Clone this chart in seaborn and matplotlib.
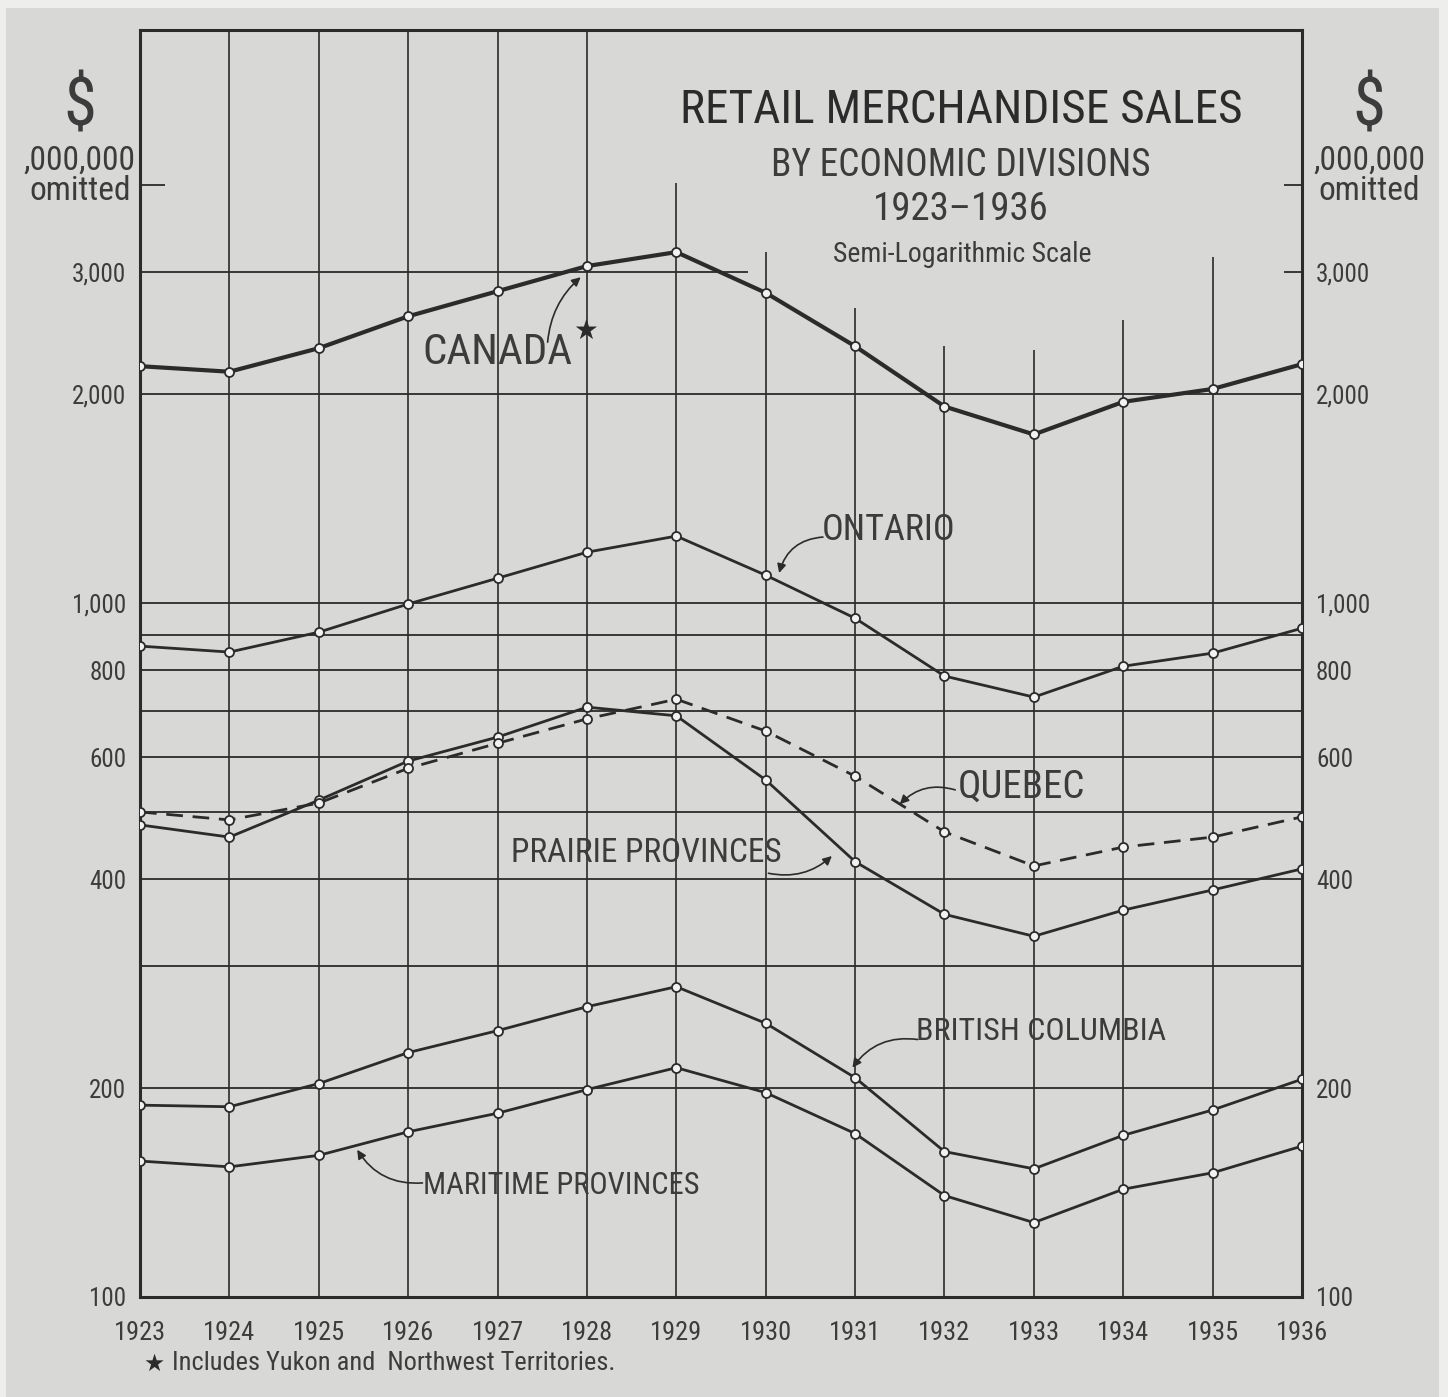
import numpy as np
import pandas as pd
import matplotlib
matplotlib.use("Agg")
import matplotlib.pyplot as plt
from matplotlib.patches import Rectangle
import seaborn as sns

# dados (milhões de dólares)
anos = list(range(1923, 1937))
canada = [2195, 2155, 2330, 2590, 2815, 3060, 3205, 2800, 2345, 1920, 1750, 1950, 2035, 2210]
ontario = [867, 850, 908, 997, 1086, 1184, 1249, 1097, 951, 785, 732, 811, 847, 920]
quebec = [500, 487, 515, 578, 628, 681, 727, 654, 563, 468, 418, 445, 460, 492]
prairie = [479, 460, 520, 592, 641, 708, 688, 556, 424, 356, 331, 361, 386, 414]
british_columbia = [189, 188, 203, 225, 242, 262, 280, 248, 207, 162, 153, 171, 186, 206]
maritime = [157, 154, 160, 173, 184, 199, 214, 197, 172, 140, 128, 143, 151, 165]

y_ticks = [100, 200, 400, 600, 800, 1000, 2000, 3000]
y_labels = ["100", "200", "400", "600", "800", "1,000", "2,000", "3,000"]
linhas_grade = [200, 300, 400, 500, 600, 700, 800, 900, 1000, 2000]
# altura das linhas verticais (cortadas pelo título)
topo_vertical = [6700, 6700, 6700, 6700, 6700, 4030, 3210, 2660, 2350, 2315, 2560, 3150]

sns.set_theme(style="white")
fonte = ["Roboto Condensed", "DejaVu Sans"]
plt.rcParams["font.family"] = fonte

papel = "#d8d8d6"
tinta = "#2b2b2b"
texto = "#3c3c3c"

fig = plt.figure(figsize=(14.48, 13.97), dpi=100)
fig.patch.set_facecolor("#eeeeec")
fig.patches.append(Rectangle((0.004, 0), 0.99, 0.994, transform=fig.transFigure,
                             facecolor=papel, edgecolor="none", zorder=-10))
ax = fig.add_axes([0.0967, 0.0716, 0.8025, 0.907])
ax.set_facecolor(papel)

ax.set_yscale("log")
ax.set_xlim(1923, 1936)
ax.set_ylim(100, 6700)

# grade
for v in linhas_grade:
    ax.axhline(v, color=tinta, lw=1.3, zorder=1)
ax.hlines(3000, 1923, 1929.8, color=tinta, lw=1.3, zorder=1)
ax.hlines([3000, 4000], 1935.8, 1936, color=tinta, lw=1.3, zorder=1)
ax.hlines(4000, 1923, 1923.28, color=tinta, lw=1.3, zorder=1)
ax.vlines(anos[1:-1], 100, topo_vertical, color=tinta, lw=1.2, zorder=1)

for s in ax.spines.values():
    s.set_color(tinta)
    s.set_linewidth(2.2)

df = pd.DataFrame({"ano": anos, "Canada": canada, "Ontario": ontario, "Quebec": quebec,
                   "Prairie": prairie, "BC": british_columbia, "Maritime": maritime})

estilo_ponto = dict(marker="o", markersize=6.5, markerfacecolor="#f2f2f2",
                    markeredgecolor=tinta, markeredgewidth=1.3, color=tinta, zorder=3)
sns.lineplot(data=df, x="ano", y="Canada", ax=ax, lw=3.0, **estilo_ponto)
for col in ["Ontario", "Prairie", "BC", "Maritime"]:
    sns.lineplot(data=df, x="ano", y=col, ax=ax, lw=2.0, **estilo_ponto)
sns.lineplot(data=df, x="ano", y="Quebec", ax=ax, lw=2.0, dashes=(6, 3.5), **estilo_ponto)

ax.set_xlabel("")
ax.set_ylabel("")
ax.set_xticks(anos)
ax.set_xticklabels([str(a) for a in anos], fontsize=19, color=texto)
ax.set_yticks(y_ticks)
ax.set_yticklabels(y_labels, fontsize=18, color=texto)
ax.yaxis.set_minor_locator(matplotlib.ticker.NullLocator())
ax.tick_params(axis="both", length=0)
ax.tick_params(axis="x", pad=17)
ax.tick_params(axis="y", pad=10, labelleft=True, labelright=True)

# título
ax.text(0.707, 0.937, "RETAIL MERCHANDISE SALES", transform=ax.transAxes, fontsize=34,
        color=tinta, ha="center", va="center")
ax.text(0.706, 0.893, "BY ECONOMIC DIVISIONS", transform=ax.transAxes, fontsize=27,
        color=texto, ha="center", va="center")
ax.text(0.706, 0.858, "1923–1936", transform=ax.transAxes, fontsize=28,
        color=texto, ha="center", va="center")
ax.text(0.708, 0.823, "Semi-Logarithmic Scale", transform=ax.transAxes, fontsize=20,
        color=texto, ha="center", va="center")

# unidades
for x in [0.0552, 0.9455]:
    fig.text(x, 0.923, "$", fontsize=48, color=texto, ha="center", va="center")
    fig.text(x, 0.874, ",000,000\nomitted", fontsize=24, color=texto, ha="center",
             va="center", linespacing=0.95)

# rótulos das séries
seta = dict(arrowstyle="-|>", color=tinta, lw=1.2, mutation_scale=13,
            shrinkA=0, shrinkB=0)
rotulos = [
    ("CANADA", (1927.0, 2300), 31),
    ("ONTARIO", (1931.37, 1274), 26),
    ("QUEBEC", (1932.86, 543), 28),
    ("PRAIRIE PROVINCES", (1928.66, 436), 24),
    ("BRITISH COLUMBIA", (1933.08, 241), 23),
    ("MARITIME PROVINCES", (1927.71, 145), 22),
]
for nome, pos, tam in rotulos:
    ax.text(pos[0], pos[1], nome, fontsize=tam, color=texto, ha="center", va="center")

setas = [
    ((1927.56, 2377), (1927.93, 2949), -0.2),
    ((1930.64, 1245), (1930.15, 1105), 0.35),
    ((1932.12, 538), (1931.50, 513), 0.3),
    ((1930.03, 408), (1930.74, 432), 0.25),
    ((1931.70, 235), (1930.97, 214), 0.3),
    ((1926.16, 146), (1925.43, 163), -0.3),
]
for cauda, ponta, rad in setas:
    ax.annotate("", xy=ponta, xytext=cauda,
                arrowprops=dict(connectionstyle=f"arc3,rad={rad}", **seta))
ax.text(1927.98, 2470, "★", fontsize=20, color=tinta, ha="center", va="center",
        family=["DejaVu Sans"])

# nota de rodapé
fig.text(0.099, 0.024, "★", fontsize=17, color=tinta, ha="left", va="center",
         family=["DejaVu Sans"])
fig.text(0.119, 0.024, "Includes Yukon and  Northwest Territories.", fontsize=19,
         color=texto, ha="left", va="center")

fig.savefig("out.png", dpi=100, facecolor=fig.get_facecolor())
